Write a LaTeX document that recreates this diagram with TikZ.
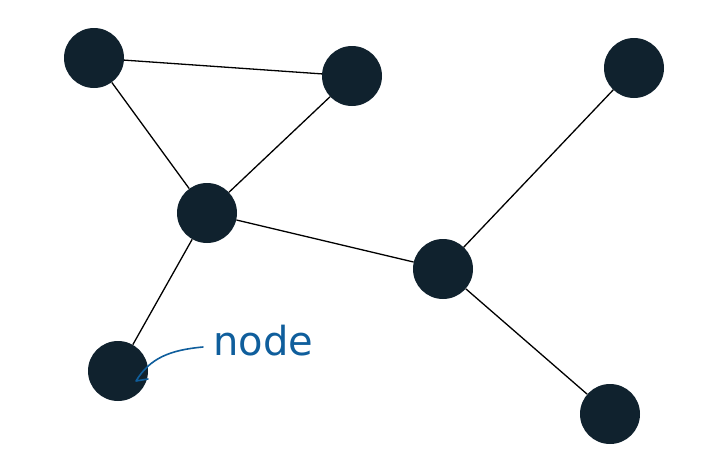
\documentclass[tikz,border=0pt]{standalone}
\usepackage{fontspec}
\newfontfamily\labelfont{DejaVu Sans}
\definecolor{nodefill}{HTML}{10222E}
\definecolor{labelblue}{HTML}{0F5E9C}
\begin{document}
\begin{tikzpicture}[x=1pt,y=-1pt,
  dot/.style={circle,fill=nodefill,draw=none,minimum size=60pt,inner sep=0pt},
  edge/.style={line width=1.3pt,draw=black},
  lbl/.style={text=labelblue,font=\labelfont\fontsize{40}{44}\selectfont,inner sep=0pt,anchor=base west},
  note/.style={draw=labelblue,line width=1.6pt,line cap=round,line join=round}]
\useasboundingbox (0,0) rectangle (712,464);
\node[dot] (a) at (94,58) {};
\node[dot] (b) at (352,76) {};
\node[dot] (c) at (634,68) {};
\node[dot] (d) at (207,213) {};
\node[dot] (e) at (443,269) {};
\node[dot] (f) at (118,371) {};
\node[dot] (g) at (610,414) {};
\draw[edge] (a) -- (b);
\draw[edge] (a) -- (d);
\draw[edge] (b) -- (d);
\draw[edge] (d) -- (e);
\draw[edge] (d) -- (f);
\draw[edge] (c) -- (e);
\draw[edge] (e) -- (g);
\node[lbl] (t) at (213,355) {node};
\coordinate (start) at (203,347);
\coordinate (tip) at (136,381);
\coordinate (barb) at (148,379);
\draw[note] (start) .. controls (170,350) and (150,358) .. (tip) -- (barb);
\end{tikzpicture}
\end{document}
